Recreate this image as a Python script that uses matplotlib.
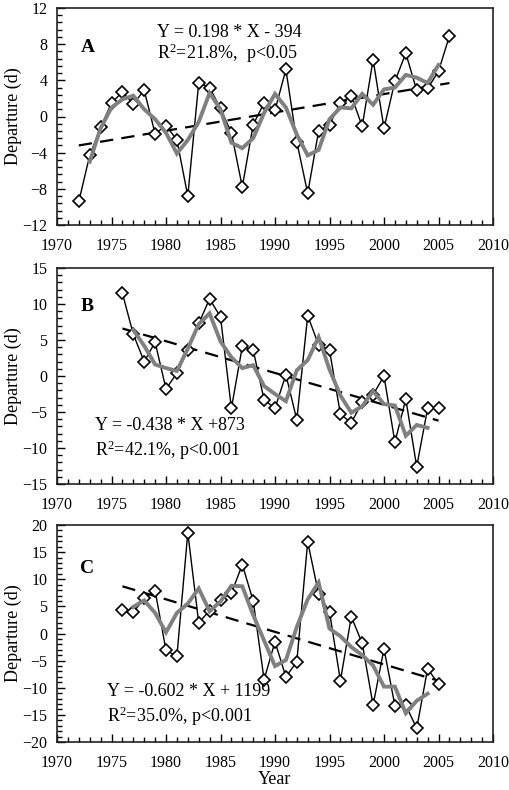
import matplotlib
matplotlib.use("Agg")
import matplotlib.pyplot as plt
from matplotlib.ticker import MultipleLocator

plt.rcParams['font.family'] = ['Liberation Serif', 'DejaVu Serif']
plt.rcParams['mathtext.fontset'] = 'custom'
plt.rcParams['mathtext.rm'] = 'Liberation Serif'
plt.rcParams['mathtext.it'] = 'Liberation Serif:italic'

# ---- Panel A data ----
years_A = list(range(1972, 2007))
dep_A = [-9.4, -4.3, -1.2, 1.5, 2.7, 1.4, 2.9, -1.9, -1.0, -2.6,
         -8.8, 3.7, 3.2, 0.9, -1.8, -7.8, -0.9, 1.5, 0.7, 5.2,
         -2.8, -8.5, -1.6, -0.9, 1.5, 2.3, -1.1, 6.3, -1.3, 3.9,
         7.0, 2.9, 3.1, 5.0, 8.9]
ma_years_A = list(range(1973, 2006))
ma_A = [-5.0, -1.3, 1.0, 1.9, 2.3, 0.8, -0.3, -1.8, -4.1, -2.6,
        -0.6, 2.6, 0.8, -2.9, -3.5, -2.4, 0.4, 2.5, 1.0, -2.0,
        -4.3, -3.7, -0.3, 1.0, 0.9, 2.5, 1.3, 3.0, 3.2, 4.6,
        4.3, 3.7, 5.7]
trend_years_A = [1972, 2006]
trend_A = [-3.2, 3.7]

# ---- Panel B data ----
years_B = list(range(1976, 2006))
dep_B = [11.5, 5.8, 2.0, 4.7, -1.8, 0.4, 3.6, 7.3, 10.7, 8.2,
         -4.5, 4.1, 3.6, -3.3, -4.5, 0.2, -6.1, 8.4, 4.3, 3.6,
         -5.3, -6.5, -3.6, -2.6, 0.0, -9.2, -3.2, -12.6, -4.5, -4.5]
ma_years_B = list(range(1977, 2005))
ma_B = [6.4, 4.2, 1.6, 1.1, 0.7, 3.8, 7.2, 8.7, 4.8, 2.6,
        1.1, 1.5, -1.4, -2.5, -3.5, 0.8, 2.2, 5.4, 0.9, -2.7,
        -5.1, -4.2, -2.1, -3.9, -4.1, -8.3, -6.8, -7.2]
trend_years_B = [1976, 2005]
trend_B = [6.6, -6.2]

# ---- Panel C data ----
years_C = list(range(1976, 2006))
dep_C = [4.4, 3.9, 6.5, 7.9, -3.1, -4.2, 18.6, 2.0, 4.2, 6.2,
         7.4, 12.7, 6.0, -8.5, -1.5, -8.0, -5.2, 16.9, 7.3, 4.0,
         -8.7, 3.1, -1.8, -13.2, -2.8, -13.3, -13.2, -17.5, -6.5, -9.3]
ma_years_C = list(range(1977, 2005))
ma_C = [4.9, 6.1, 3.8, 0.2, 3.8, 5.5, 8.3, 4.1, 5.9, 8.8,
        8.7, 3.4, -1.3, -6.0, -4.9, 1.2, 6.3, 9.4, 0.9, -0.5,
        -2.5, -4.0, -5.9, -9.8, -9.8, -14.7, -12.4, -11.1]
trend_years_C = [1976, 2005]
trend_C = [8.7, -8.7]

panel_labels = ["A", "B", "C"]
eq_line1 = ["Y = 0.198 * X - 394", "Y = -0.438 * X +873", "Y = -0.602 * X + 1199"]
eq_line2 = [r"R$^{2}$=21.8%,  p<0.05", r"R$^{2}$=42.1%, p<0.001", r"R$^{2}$=35.0%, p<0.001"]
ylims = [(-12, 12), (-15, 15), (-20, 20)]
ymajor = [4, 5, 5]

W, H = 510, 790
fig = plt.figure(figsize=(W / 100, H / 100), dpi=100)

# axes boxes in pixels: (left, top, right, bottom)
boxes = [(57, 8, 493, 225), (57, 268, 493, 484), (57, 525, 493, 742)]
# text positions in axes fraction
lab_pos = [(0.071, 0.82), (0.070, 0.82), (0.070, 0.80)]
eq_pos = [((0.229, 0.885), (0.229, 0.791)),
          ((0.087, 0.270), (0.087, 0.157)),
          ((0.114, 0.232), (0.114, 0.117))]

data = [(years_A, dep_A, ma_years_A, ma_A, trend_years_A, trend_A),
        (years_B, dep_B, ma_years_B, ma_B, trend_years_B, trend_B),
        (years_C, dep_C, ma_years_C, ma_C, trend_years_C, trend_C)]

for i in range(3):
    l, t, r, b = boxes[i]
    ax = fig.add_axes([l / W, 1 - b / H, (r - l) / W, (b - t) / H])
    yrs, dep, myrs, ma, tyrs, tr = data[i]
    ax.plot(tyrs, tr, color='black', lw=1.6, dashes=(6, 3.7), zorder=2)
    ax.plot(yrs, dep, color='black', lw=1.0, marker='D', markersize=5.8,
            markerfacecolor='white', markeredgecolor='black', markeredgewidth=1.2, zorder=3)
    ax.plot(myrs, ma, color='#808080', lw=2.8, zorder=4, solid_joinstyle='miter')

    ax.set_xlim(1970, 2010)
    ax.set_ylim(*ylims[i])
    ax.xaxis.set_major_locator(MultipleLocator(5))
    ax.xaxis.set_minor_locator(MultipleLocator(1))
    ax.yaxis.set_major_locator(MultipleLocator(ymajor[i]))
    ax.yaxis.set_minor_locator(MultipleLocator(ymajor[i] / 5))
    ax.tick_params(axis='both', which='major', direction='in', length=6, width=1.0,
                   labelsize=11.5, colors='black')
    ax.tick_params(axis='both', which='minor', direction='in', length=3.5, width=1.0)
    ax.tick_params(axis='x', which='both', top=False, pad=9.5)
    ax.tick_params(axis='y', which='both', right=False, pad=7)
    for s in ax.spines.values():
        s.set_linewidth(1.2)
        s.set_color('#222222')

    ax.set_ylabel("Departure (d)", fontsize=13)
    ax.yaxis.set_label_coords(-0.080, 0.5)

    ax.text(*lab_pos[i], panel_labels[i], transform=ax.transAxes, fontsize=14,
            fontweight='bold', ha='center', va='center')
    ax.text(*eq_pos[i][0], eq_line1[i], transform=ax.transAxes, fontsize=13,
            ha='left', va='center')
    ax.text(*eq_pos[i][1], eq_line2[i], transform=ax.transAxes, fontsize=13,
            ha='left', va='center')
    if i == 2:
        ax.set_xlabel("Year", fontsize=13, labelpad=0)

fig.savefig("out.png", dpi=100)
